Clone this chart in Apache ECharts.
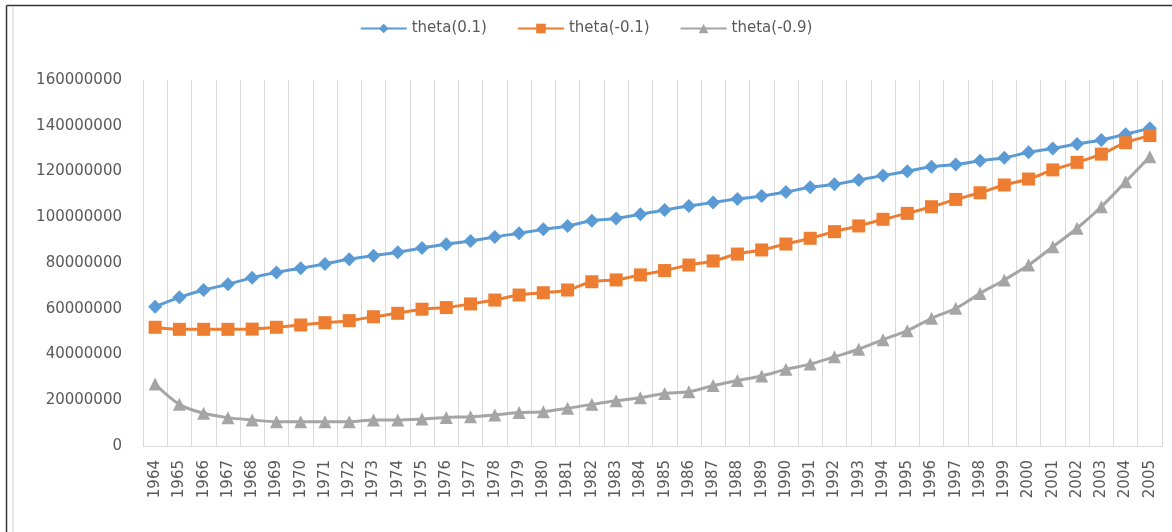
<!DOCTYPE html>
<html>
<head>
<meta charset="utf-8">
<script src="https://cdn.jsdelivr.net/npm/echarts@6/dist/echarts.min.js"></script>
<style>
  html, body { margin: 0; padding: 0; background: #ffffff; }
  #chart { width: 1172px; height: 532px; }
</style>
</head>
<body>
<div id="chart"></div>
<script>
// Years on the horizontal axis
const years = [];
for (let y = 1964; y <= 2005; y++) years.push(String(y));

// Series values, one entry per year
const theta01 = [
  60.9, 65.0, 68.2, 70.7, 73.6, 75.9, 77.7, 79.6, 81.6, 83.2,
  84.7, 86.6, 88.2, 89.6, 91.4, 93.0, 94.7, 96.2, 98.5, 99.5,
  101.3, 103.2, 104.9, 106.5, 108.0, 109.3, 111.0, 113.1, 114.4, 116.3,
  118.2, 120.1, 122.1, 123.1, 124.7, 126.0, 128.4, 130.1, 132.0, 133.8,
  136.3, 138.9
].map(v => Math.round(v * 1e6));

const thetaNeg01 = [
  51.9, 51.0, 51.0, 51.0, 51.1, 51.9, 52.9, 53.9, 54.8, 56.5,
  58.0, 59.8, 60.5, 62.1, 63.8, 66.0, 67.0, 68.2, 71.8, 72.6,
  74.8, 76.7, 79.1, 80.9, 83.9, 85.7, 88.3, 90.8, 93.7, 96.2,
  99.1, 101.7, 104.6, 107.8, 110.7, 114.1, 116.7, 120.7, 124.0, 127.6,
  132.6, 135.7
].map(v => Math.round(v * 1e6));

const thetaNeg09 = [
  27.1, 18.2, 14.3, 12.4, 11.4, 10.6, 10.6, 10.6, 10.6, 11.4,
  11.4, 11.8, 12.5, 12.8, 13.6, 14.6, 15.0, 16.5, 18.2, 19.8,
  21.1, 23.0, 23.7, 26.4, 28.6, 30.6, 33.5, 35.8, 39.0, 42.3,
  46.5, 50.4, 55.8, 60.2, 66.7, 72.6, 79.1, 87.1, 95.2, 104.6,
  115.5, 126.5
].map(v => Math.round(v * 1e6));

// Value axis ticks
const yMin = 0;
const yMax = 160000000;
const yStep = 20000000;

const textColor = '#595959';
const gridColor = '#d9d9d9';

const chart = echarts.init(document.getElementById('chart'), null, { renderer: 'canvas' });

function lineSeries(name, data, color, symbol, size) {
  return {
    name: name,
    type: 'line',
    data: data,
    smooth: 0.35,
    symbol: symbol,
    symbolSize: size,
    showSymbol: true,
    lineStyle: { color: color, width: 3 },
    itemStyle: { color: color },
    emphasis: { disabled: true },
    z: 3
  };
}

chart.setOption({
  animation: false,
  backgroundColor: '#ffffff',
  legend: {
    top: 16,
    left: 'center',
    itemWidth: 46,
    itemHeight: 12,
    itemGap: 30,
    textStyle: { color: textColor, fontSize: 15, fontFamily: 'DejaVu Sans' },
    data: ['theta(0.1)', 'theta(-0.1)', 'theta(-0.9)']
  },
  grid: { left: 143, right: 10, top: 80, bottom: 86, containLabel: false },
  xAxis: {
    type: 'category',
    data: years,
    boundaryGap: true,
    axisLine: { show: true, lineStyle: { color: gridColor, width: 1 } },
    axisTick: { show: false },
    splitLine: { show: true, interval: 0, lineStyle: { color: gridColor, width: 1 } },
    axisLabel: {
      interval: 0,
      rotate: 90,
      margin: 14,
      color: textColor,
      fontSize: 15,
      fontFamily: 'DejaVu Sans'
    }
  },
  yAxis: {
    type: 'value',
    min: yMin,
    max: yMax,
    interval: yStep,
    axisLine: { show: false },
    axisTick: { show: false },
    splitLine: { show: false },
    axisLabel: {
      margin: 21,
      color: textColor,
      fontSize: 15,
      fontFamily: 'DejaVu Sans',
      formatter: v => String(v)
    }
  },
  series: [
    lineSeries('theta(0.1)', theta01, '#5b9bd5', 'diamond', 14),
    lineSeries('theta(-0.1)', thetaNeg01, '#ed7d31', 'rect', 13),
    lineSeries('theta(-0.9)', thetaNeg09, '#a5a5a5', 'triangle', 13)
  ],
  graphic: [
    { type: 'line', silent: true, shape: { x1: 6.5, y1: 5.5, x2: 1172, y2: 5.5 }, style: { stroke: '#333333', lineWidth: 1.5 } },
    { type: 'line', silent: true, shape: { x1: 6.5, y1: 5.5, x2: 6.5, y2: 532 }, style: { stroke: '#333333', lineWidth: 1.5 } },
    { type: 'line', silent: true, shape: { x1: 13, y1: 7, x2: 13, y2: 532 }, style: { stroke: '#e6e6e6', lineWidth: 2 } }
  ]
});
</script>
</body>
</html>
